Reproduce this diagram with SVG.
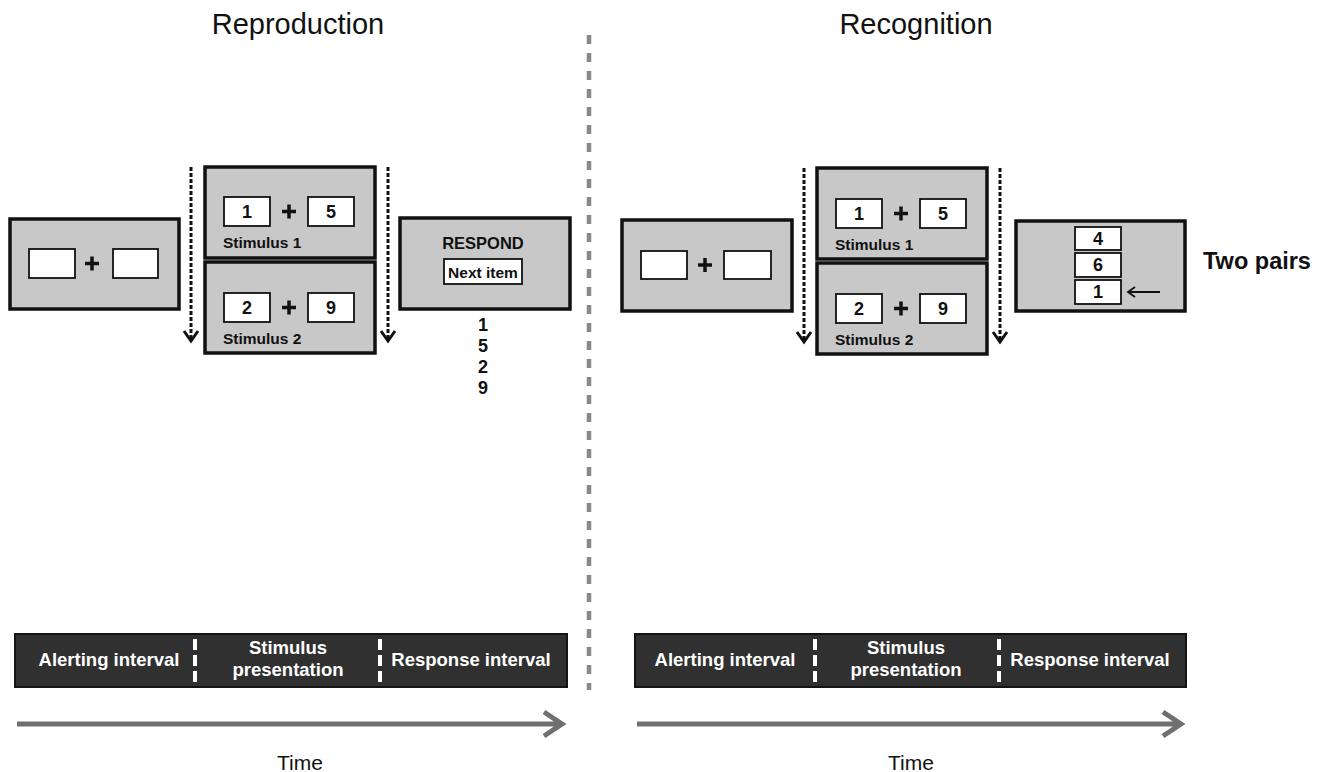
<svg xmlns="http://www.w3.org/2000/svg" width="1329" height="772" viewBox="0 0 1329 772">
<style>
.scr{fill:#c8c8c8;stroke:#111;stroke-width:3.5}
.wb{fill:#fff;stroke:#111;stroke-width:1.8}
.t{font-family:"Liberation Sans",Arial,sans-serif;fill:#111}
.b{font-weight:bold}
.num{font-family:"Liberation Sans",Arial,sans-serif;font-weight:bold;font-size:18px;fill:#111;text-anchor:middle}
.plus{stroke:#111;stroke-width:3.5}
.dash{stroke:#111;stroke-width:3;stroke-dasharray:4 2;fill:none}
.head{stroke:#111;stroke-width:3;fill:none}
.bar{fill:#303030;stroke:#141414;stroke-width:2}
.div{stroke:#fff;stroke-width:4;stroke-dasharray:11 5}
.bt{font-family:"Liberation Sans",Arial,sans-serif;font-weight:bold;font-size:18.5px;fill:#fff;text-anchor:middle}
.time{stroke:#707070;stroke-width:5;fill:none}
</style>
<rect width="1329" height="772" fill="#fff"/>

<text class="t" x="298" y="34" font-size="29" text-anchor="middle">Reproduction</text>
<text class="t" x="916" y="34" font-size="29" text-anchor="middle">Recognition</text>

<line x1="589" y1="35" x2="589" y2="690" stroke="#888" stroke-width="4.5" stroke-dasharray="9 9"/>

<!-- Left panel nodes -->
<g id="rep-alert">
<rect class="scr" x="10" y="219" width="169" height="90"/>
<rect class="wb" x="29" y="249" width="46" height="29"/>
<rect class="wb" x="113" y="249" width="45" height="29"/>
<path class="plus" d="M85 263.5h14M92 256.5v14"/>
</g>
<g id="rep-stim1">
<rect class="scr" x="205" y="167" width="170" height="91"/>
<rect class="wb" x="224" y="197" width="46" height="29"/>
<rect class="wb" x="308" y="197" width="46" height="29"/>
<path class="plus" d="M282 211.5h14M289 204.5v14"/>
<text class="num" x="247" y="218">1</text>
<text class="num" x="331" y="218">5</text>
<text class="t b" x="223" y="248" font-size="15.5">Stimulus 1</text>
</g>
<g id="rep-stim2">
<rect class="scr" x="205" y="262" width="170" height="91"/>
<rect class="wb" x="224" y="293" width="46" height="29"/>
<rect class="wb" x="308" y="293" width="46" height="29"/>
<path class="plus" d="M282 307.5h14M289 300.5v14"/>
<text class="num" x="247" y="314">2</text>
<text class="num" x="331" y="314">9</text>
<text class="t b" x="223" y="344" font-size="15.5">Stimulus 2</text>
</g>
<g id="rep-respond">
<rect class="scr" x="400" y="218" width="170" height="91"/>
<text class="t b" x="483" y="249" font-size="16.5" text-anchor="middle">RESPOND</text>
<rect class="wb" x="444" y="259" width="78" height="25"/>
<text class="t b" x="483" y="277.5" font-size="15.5" text-anchor="middle">Next item</text>
<text class="num" x="483" y="331" font-size="17">1</text>
<text class="num" x="483" y="352" font-size="17">5</text>
<text class="num" x="483" y="373" font-size="17">2</text>
<text class="num" x="483" y="394" font-size="17">9</text>
</g>

<!-- Right panel nodes -->
<g id="rec-alert">
<rect class="scr" x="622" y="220" width="170" height="91"/>
<rect class="wb" x="641" y="251" width="46" height="28"/>
<rect class="wb" x="724" y="251" width="47" height="28"/>
<path class="plus" d="M698 265h14M705 258v14"/>
</g>
<g id="rec-stim1">
<rect class="scr" x="817" y="168" width="170" height="91"/>
<rect class="wb" x="836" y="199" width="46" height="29"/>
<rect class="wb" x="920" y="199" width="46" height="29"/>
<path class="plus" d="M894 213.5h14M901 206.5v14"/>
<text class="num" x="859" y="220">1</text>
<text class="num" x="943" y="220">5</text>
<text class="t b" x="835" y="250" font-size="15.5">Stimulus 1</text>
</g>
<g id="rec-stim2">
<rect class="scr" x="817" y="263" width="170" height="91"/>
<rect class="wb" x="836" y="294" width="46" height="29"/>
<rect class="wb" x="920" y="294" width="46" height="29"/>
<path class="plus" d="M894 308.5h14M901 301.5v14"/>
<text class="num" x="859" y="315">2</text>
<text class="num" x="943" y="315">9</text>
<text class="t b" x="835" y="345" font-size="15.5">Stimulus 2</text>
</g>
<g id="rec-respond">
<rect class="scr" x="1016" y="221" width="169" height="90"/>
<rect class="wb" x="1075" y="227" width="46" height="23"/>
<rect class="wb" x="1075" y="253" width="46" height="24"/>
<rect class="wb" x="1075" y="280" width="46" height="24"/>
<text class="num" x="1098" y="244.5" font-size="16">4</text>
<text class="num" x="1098" y="271" font-size="16">6</text>
<text class="num" x="1098" y="298" font-size="16">1</text>
<path d="M1160 292H1128M1135 287l-7 5 7 5" stroke="#111" stroke-width="1.8" fill="none"/>
</g>
<text class="t b" x="1203" y="269" font-size="23.5">Two pairs</text>

<!-- connectors -->
<g id="connectors">
<line class="dash" x1="191" y1="167" x2="191" y2="340"/>
<path class="head" d="M184 331l7 10 7-10"/>
<line class="dash" x1="388" y1="167" x2="388" y2="340"/>
<path class="head" d="M381 331l7 10 7-10"/>
<line class="dash" x1="804" y1="168" x2="804" y2="341"/>
<path class="head" d="M797 332l7 10 7-10"/>
<line class="dash" x1="1000" y1="168" x2="1000" y2="341"/>
<path class="head" d="M993 332l7 10 7-10"/>
</g>

<!-- timelines -->
<g id="rep-timeline">
<rect class="bar" x="15" y="634" width="552" height="53"/>
<line class="div" x1="195" y1="639" x2="195" y2="684"/>
<line class="div" x1="380" y1="639" x2="380" y2="684"/>
<text class="bt" x="109" y="666">Alerting interval</text>
<text class="bt" x="288" y="654">Stimulus</text>
<text class="bt" x="288" y="676">presentation</text>
<text class="bt" x="471" y="666">Response interval</text>
<path class="time" d="M17 724H562M544 712l18 12-18 12"/>
<text class="t" x="300" y="770" font-size="21" text-anchor="middle">Time</text>
</g>
<g id="rec-timeline">
<rect class="bar" x="635" y="634" width="551" height="53"/>
<line class="div" x1="815" y1="639" x2="815" y2="684"/>
<line class="div" x1="999" y1="639" x2="999" y2="684"/>
<text class="bt" x="725" y="666">Alerting interval</text>
<text class="bt" x="906" y="654">Stimulus</text>
<text class="bt" x="906" y="676">presentation</text>
<text class="bt" x="1090" y="666">Response interval</text>
<path class="time" d="M637 724H1181M1163 712l18 12-18 12"/>
<text class="t" x="911" y="770" font-size="21" text-anchor="middle">Time</text>
</g>
</svg>
